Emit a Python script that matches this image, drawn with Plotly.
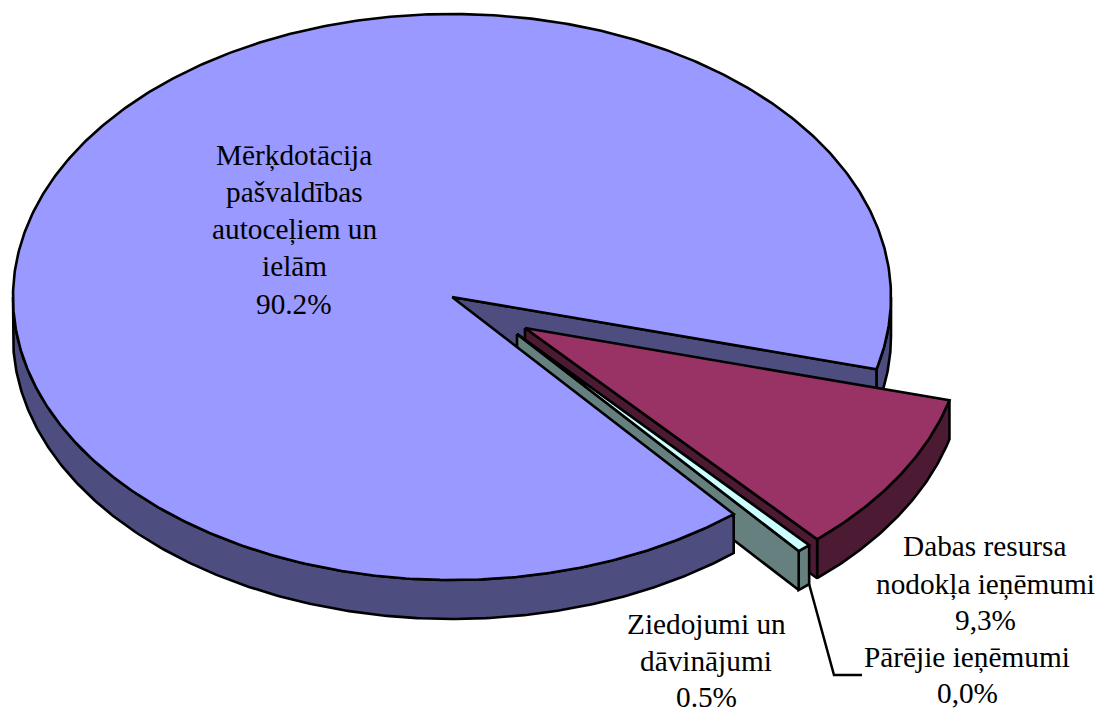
import numpy as np
import plotly.graph_objects as go

# --- data ---
categories = ["Dabas resursa nodokļa ieņēmumi", "Pārējie ieņēmumi",
              "Ziedojumi un dāvinājumi", "Mērķdotācija pašvaldības autoceļiem un ielām"]
values = [9.3, 0.0, 0.5, 90.2]
label_lines = [
    ["Dabas resursa", "nodokļa ieņēmumi", "9,3%"],
    ["Pārējie ieņēmumi", "0,0%"],
    ["Ziedojumi un", "dāvinājumi", "0.5%"],
    ["Mērķdotācija", "pašvaldības", "autoceļiem un", "ielām", "90.2%"],
]

# --- styling / layout of the pseudo-3D pie ---
top_colors = ["#993366", "#CCFFFF", "#CCFFFF", "#9999FF"]
side_colors = ["#4D1A33", "#668080", "#668080", "#4D4D80"]
CX, CY, RX, RY, DEPTH = 452.0, 297.0, 439.0, 283.0, 39.0
START = 14.8
offsets = [(73, 31), (65, 37), (65, 37), (0, 0)]
label_xy = [(985, [546, 584, 620]), (967, [657, 693]),
            (706, [624, 661, 697]), (294, [155, 192, 229, 266, 304])]
LW = 2.6
FONT = "Liberation Serif"
FS = 29.3

sweeps = [v * 3.6 for v in values]
bounds = START + np.concatenate([[0], np.cumsum(sweeps)])


def rim(t0, t1, off, dz=0.0):
    t = np.radians(np.linspace(t0, t1, max(2, int(abs(t1 - t0) * 2) + 2)))
    return CX + off[0] + RX * np.cos(t), CY + off[1] + dz + RY * np.sin(t)


fig = go.Figure()


def poly(xs, ys, fill):
    fig.add_trace(go.Scatter(x=list(xs), y=list(ys), mode="lines", fill="toself",
                             fillcolor=fill, line=dict(color="black", width=LW),
                             hoverinfo="skip", showlegend=False))


def side_band(t0, t1, off, fill):
    x, y = rim(t0, t1, off)
    xb, yb = rim(t0, t1, off, DEPTH)
    poly(np.r_[x, xb[::-1], x[0]], np.r_[y, yb[::-1], y[0]], fill)


def cut_face(t, off, fill):
    x, y = rim(t, t, off)
    ax, ay = CX + off[0], CY + off[1]
    poly([ax, x[0], x[0], ax, ax], [ay, y[0], y[0] + DEPTH, ay + DEPTH, ay], fill)


def top(t0, t1, off, fill):
    x, y = rim(t0, t1, off)
    ax, ay = CX + off[0], CY + off[1]
    poly(np.r_[ax, x, ax], np.r_[ay, y, ay], fill)


D, P, Z, M = 0, 1, 2, 3

# main slice: part of the rim and the cut face behind the exploded slices
side_band(0, bounds[D], offsets[M], side_colors[M])
cut_face(bounds[D], offsets[M], side_colors[M])

# Dabas resursa slice
side_band(bounds[D], bounds[D + 1], offsets[D], side_colors[D])
cut_face(bounds[D + 1], offsets[D], side_colors[D])
top(bounds[D], bounds[D + 1], offsets[D], top_colors[D])

# Pārējie slice (zero width)
top(bounds[P], bounds[P + 1], offsets[P], top_colors[P])

# Ziedojumi slice
side_band(bounds[Z], bounds[Z + 1], offsets[Z], side_colors[Z])
cut_face(bounds[Z + 1], offsets[Z], side_colors[Z])
top(bounds[Z], bounds[Z + 1], offsets[Z], top_colors[Z])

# main slice: front rim and top surface
side_band(bounds[M], 180, offsets[M], side_colors[M])
top(bounds[M], bounds[M + 1], offsets[M], top_colors[M])

# leader line for the zero slice
lx, ly = rim(bounds[P], bounds[P], offsets[P], DEPTH)
fig.add_trace(go.Scatter(x=[lx[0], 834, 862], y=[ly[0], 675, 675], mode="lines",
                         line=dict(color="black", width=2.5), hoverinfo="skip", showlegend=False))

# labels
for lines, (lxc, ys) in zip(label_lines, label_xy):
    for txt, yc in zip(lines, ys):
        fig.add_annotation(x=lxc, y=yc, text=txt, showarrow=False, xref="x", yref="y",
                           xanchor="center", yanchor="middle",
                           font=dict(family=FONT, size=FS, color="black"))

fig.update_layout(
    width=1096, height=708, margin=dict(l=0, r=0, t=0, b=0),
    paper_bgcolor="white", plot_bgcolor="white", showlegend=False,
    xaxis=dict(range=[0, 1096], visible=False, fixedrange=True),
    yaxis=dict(range=[708, 0], visible=False, fixedrange=True),
)
fig.write_html("out.html", post_script="document.body.style.margin='0';",
               config=dict(displayModeBar=False))
